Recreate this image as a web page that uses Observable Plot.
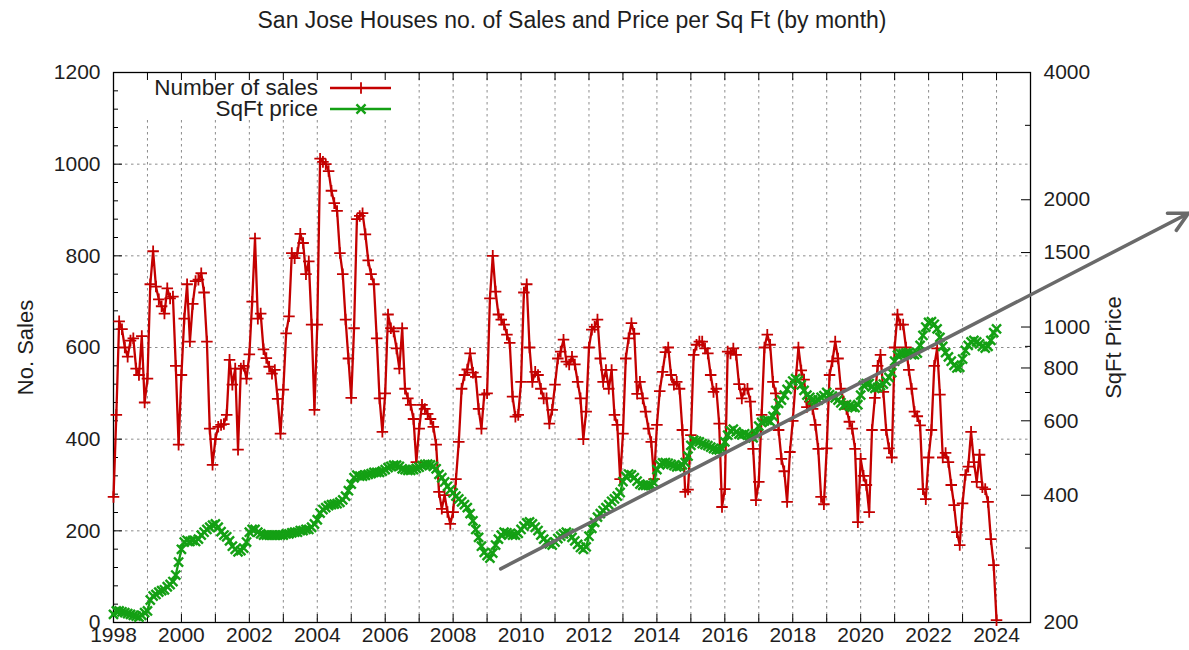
<!DOCTYPE html>
<html>
<head>
<meta charset="utf-8">
<script src="https://cdn.jsdelivr.net/npm/d3@7"></script>
<script src="https://cdn.jsdelivr.net/npm/@observablehq/plot@0.6"></script>
<style>
  html, body { margin: 0; padding: 0; background: #fff; }
  #chart svg { display: block; }
</style>
</head>
<body>
<div id="chart"></div>
<script>
// ---------------- DATA ----------------
const titleText = "San Jose Houses no. of Sales and Price per Sq Ft (by month)";
const firstYear = 1998;

// Number of sales per month, one row per year (Jan..Dec)
const salesByYear = [
  [274, 453, 657, 640, 600, 580, 615, 620, 554, 540, 625, 480], // 1998
  [532, 738, 810, 733, 705, 690, 674, 729, 707, 711, 560, 388], // 1999
  [540, 663, 738, 613, 695, 745, 748, 762, 720, 613, 423, 344], // 2000
  [400, 427, 431, 433, 453, 573, 519, 554, 377, 554, 560, 532], // 2001
  [585, 700, 838, 663, 674, 596, 577, 558, 543, 551, 488, 412], // 2002
  [508, 631, 668, 806, 795, 806, 848, 828, 760, 788, 650, 464], // 2003
  [650, 1012, 1005, 1000, 985, 942, 915, 898, 806, 760, 661, 576], // 2004
  [490, 642, 880, 887, 893, 847, 790, 760, 738, 620, 489, 416], // 2005
  [500, 672, 642, 635, 598, 554, 642, 510, 489, 475, 444, 350], // 2006
  [423, 475, 466, 455, 444, 427, 388, 285, 248, 278, 241, 215], // 2007
  [241, 313, 394, 510, 540, 552, 587, 545, 536, 466, 423, 497], // 2008
  [500, 707, 800, 722, 672, 661, 650, 628, 610, 493, 449, 453], // 2009
  [525, 720, 738, 600, 525, 547, 540, 510, 489, 489, 434, 464], // 2010
  [519, 576, 591, 617, 569, 563, 580, 563, 525, 489, 400, 460], // 2011
  [600, 639, 645, 661, 576, 525, 551, 510, 551, 453, 431, 313], // 2012
  [412, 576, 620, 653, 630, 499, 525, 489, 460, 423, 394, 313], // 2013
  [431, 505, 547, 590, 600, 540, 519, 525, 510, 420, 285, 290], // 2014
  [409, 584, 606, 613, 613, 598, 587, 540, 503, 510, 434, 252], // 2015
  [291, 591, 587, 598, 584, 520, 489, 508, 510, 482, 379, 267], // 2016
  [307, 453, 600, 628, 606, 525, 500, 420, 357, 330, 263, 372], // 2017
  [440, 525, 600, 550, 530, 470, 482, 466, 431, 379, 274, 258], // 2018
  [380, 540, 570, 613, 576, 510, 482, 466, 438, 423, 379, 219], // 2019
  [357, 320, 300, 241, 420, 490, 560, 584, 503, 420, 380, 360], // 2020
  [600, 672, 650, 650, 600, 551, 510, 460, 450, 430, 291, 269], // 2021
  [360, 420, 560, 598, 497, 360, 370, 350, 300, 256, 197, 169], // 2022
  [260, 322, 340, 416, 350, 307, 366, 295, 291, 263, 182, 125], // 2023
  [5]                                                            // 2024
];

// Price per square foot per month ($), one row per year (Jan..Dec)
const priceByYear = [
  [209, 213, 213, 212, 211, 210, 209, 208, 207, 206, 208, 211], // 1998
  [213, 226, 231, 233, 236, 238, 239, 243, 246, 250, 259, 278], // 1999
  [298, 310, 313, 311, 313, 311, 315, 322, 327, 332, 336, 340], // 2000
  [342, 336, 328, 322, 319, 312, 303, 298, 294, 296, 300, 310], // 2001
  [327, 332, 332, 327, 324, 322, 322, 322, 322, 322, 322, 322], // 2002
  [322, 324, 324, 326, 327, 327, 330, 330, 332, 332, 336, 342], // 2003
  [350, 363, 370, 374, 378, 380, 381, 382, 385, 390, 398, 410], // 2004
  [425, 440, 446, 444, 444, 446, 448, 450, 453, 453, 453, 456], // 2005
  [460, 465, 468, 471, 471, 468, 462, 460, 458, 458, 460, 463], // 2006
  [466, 470, 473, 474, 472, 468, 462, 448, 440, 430, 420, 412], // 2007
  [405, 398, 392, 386, 380, 374, 362, 348, 332, 318, 303, 293], // 2008
  [288, 284, 292, 305, 315, 322, 327, 326, 324, 322, 322, 325], // 2009
  [332, 338, 344, 346, 342, 336, 330, 322, 315, 310, 307, 305], // 2010
  [310, 316, 320, 324, 327, 325, 318, 312, 306, 301, 298, 302], // 2011
  [320, 334, 345, 355, 362, 368, 374, 380, 387, 392, 398, 406], // 2012
  [431, 443, 449, 447, 440, 432, 425, 422, 422, 422, 422, 428], // 2013
  [460, 472, 477, 478, 476, 473, 470, 467, 468, 472, 478, 495], // 2014
  [525, 540, 537, 535, 530, 527, 524, 520, 516, 513, 512, 515], // 2015
  [535, 555, 568, 573, 565, 558, 556, 559, 555, 551, 547, 560], // 2016
  [583, 595, 600, 602, 598, 615, 635, 660, 672, 690, 712, 730], // 2017
  [745, 755, 748, 730, 708, 690, 682, 672, 668, 672, 682, 688], // 2018
  [700, 692, 686, 680, 672, 662, 652, 655, 650, 646, 645, 655], // 2019
  [690, 728, 735, 735, 722, 716, 720, 727, 733, 745, 760, 780], // 2020
  [830, 858, 865, 865, 868, 870, 860, 860, 868, 905, 955, 1000], // 2021
  [1025, 1030, 1015, 990, 945, 900, 870, 850, 830, 812, 800, 803], // 2022
  [840, 880, 905, 922, 930, 922, 912, 900, 892, 900, 930, 970], // 2023
  [990]                                                            // 2024
];

// Axis ticks
const gridYears = d3.range(1999, 2025);
const tickYears = d3.range(1998, 2025);
const labelYears = d3.range(1998, 2025, 2);
const salesTicks = [0, 200, 400, 600, 800, 1000, 1200];
const salesGridTicks = [200, 400, 600, 800, 1000];
const salesMinorTicks = d3.range(40, 1200, 40).filter(d => d % 200 !== 0);
const priceTicks = [200, 400, 600, 800, 1000, 1500, 2000, 4000];
const priceMinorTicks = [300, 500, 700, 900, 3000];
const priceMin = 200, priceMax = 4000;

// Hand-drawn trend arrow annotation (start/end in data units: year, sales-axis units)
const trendArrow = [{x1: 2009.4, y1: 117, x2: 2029.65, y2: 893}];

// ---------------- BUILD ----------------
const RED = "#c40000";
const GREEN = "#14a014";
const TEXT = "#1e1e1e";
const FONT = "'Liberation Sans', Arial, Helvetica, sans-serif";

const salesData = salesByYear.flat().map((v, i) => ({t: firstYear + i / 12, v}));
const priceData = priceByYear.flat().map((v, i) => ({t: firstYear + i / 12, v}));

// map price (log scale) onto the 0..1200 sales axis range
const priceToY = p => 1200 * Math.log(p / priceMin) / Math.log(priceMax / priceMin);
const yToPrice = y => priceMin * Math.pow(priceMax / priceMin, y / 1200);

const W = 1189, H = 650;
const mL = 113, mR = 159, mT = 72, mB = 28;
const fw = W - mL - mR, fh = H - mT - mB;

const chart = Plot.plot({
  width: W, height: H,
  marginTop: mT, marginBottom: mB, marginLeft: mL, marginRight: mR,
  x: {domain: [1998, 2025], axis: null},
  y: {domain: [0, 1200], axis: null},
  style: {fontFamily: FONT, fontSize: "21px", color: TEXT, background: "#fff", overflow: "visible"},
  marks: [
    Plot.gridX(gridYears, {stroke: "#8c8c8c", strokeOpacity: 1, strokeWidth: 1, strokeDasharray: "2.5,3.5"}),
    Plot.gridY(salesGridTicks, {stroke: "#8c8c8c", strokeOpacity: 1, strokeWidth: 1, strokeDasharray: "2.5,3.5"}),
    // inward tick marks (gnuplot style)
    Plot.tickX(tickYears, {x: d => d, insetTop: fh - 8, stroke: "#000"}),
    Plot.tickX(tickYears, {x: d => d, insetBottom: fh - 8, stroke: "#000"}),
    Plot.tickY(salesTicks, {y: d => d, insetRight: fw - 9, stroke: "#000"}),
    Plot.tickY(salesMinorTicks, {y: d => d, insetRight: fw - 5, stroke: "#000"}),
    Plot.tickY(priceTicks.map(priceToY), {y: d => d, insetLeft: fw - 9, stroke: "#000"}),
    Plot.tickY(priceMinorTicks.map(priceToY), {y: d => d, insetLeft: fw - 5, stroke: "#000"}),
    Plot.frame({stroke: "#000", strokeWidth: 1.3}),
    // series
    Plot.line(salesData, {x: "t", y: "v", stroke: RED, strokeWidth: 2.3}),
    Plot.dot(salesData, {x: "t", y: "v", symbol: "plus", r: 3.8, stroke: RED, strokeWidth: 1.8, fill: "none"}),
    Plot.line(priceData, {x: "t", y: d => priceToY(d.v), stroke: GREEN, strokeWidth: 2.3}),
    Plot.dot(priceData, {x: "t", y: d => priceToY(d.v), symbol: "times", r: 4.2, stroke: GREEN, strokeWidth: 2.4, fill: "none"}),
    // annotation arrow
    Plot.arrow(trendArrow, {x1: "x1", y1: "y1", x2: "x2", y2: "y2", stroke: "#6a6a6a", strokeWidth: 3.5, headLength: 9, headAngle: 55, clip: false}),
    // axes labels
    Plot.axisX(labelYears, {anchor: "bottom", tickSize: 0, tickPadding: 5, tickFormat: d => String(d), label: null, fontSize: 21, fill: TEXT}),
    Plot.axisY(salesTicks, {anchor: "left", tickSize: 0, tickPadding: 13, tickFormat: d => String(d), label: null, fontSize: 21, fill: TEXT}),
    Plot.axisY(priceTicks.map(priceToY), {anchor: "right", tickSize: 0, tickPadding: 13, tickFormat: d => String(Math.round(yToPrice(d))), label: null, fontSize: 21, fill: TEXT}),
    // titles
    Plot.text([titleText], {text: d => d, frameAnchor: "top", lineAnchor: "middle", dy: -52, fontSize: 23, fill: TEXT}),
    Plot.text(["No. Sales"], {text: d => d, frameAnchor: "left", textAnchor: "middle", dx: -88, rotate: -90, fontSize: 22, fill: TEXT}),
    Plot.text(["SqFt Price"], {text: d => d, frameAnchor: "right", textAnchor: "middle", dx: 83, rotate: -90, fontSize: 22, fill: TEXT})
  ]
});

document.getElementById("chart").appendChild(chart);

// Legend box (opaque, hides grid lines behind it) placed right after the grid layers
const ns = "http://www.w3.org/2000/svg";
const yGrid = chart.querySelector('[aria-label="y-grid"]');
const bg = document.createElementNS(ns, "rect");
bg.setAttribute("x", mL + 1); bg.setAttribute("y", mT + 1);
bg.setAttribute("width", 283); bg.setAttribute("height", 47);
bg.setAttribute("fill", "#fff");
if (yGrid) yGrid.parentNode.insertBefore(bg, yGrid.nextSibling);

// Legend entries
const lg = d3.select(chart).append("g").attr("font-family", FONT).attr("font-size", 22.5).attr("fill", TEXT);
const legendItems = [
  {label: "Number of sales", color: RED, symbol: d3.symbolPlus, r: 3.8, sw: 1.8, y: 88},
  {label: "SqFt price", color: GREEN, symbol: d3.symbolTimes, r: 4.2, sw: 2.4, y: 109}
];
legendItems.forEach(it => {
  lg.append("text").attr("x", 318).attr("y", it.y).attr("dy", "0.3em").attr("text-anchor", "end").text(it.label);
  lg.append("line").attr("x1", 330).attr("x2", 391).attr("y1", it.y).attr("y2", it.y)
    .attr("stroke", it.color).attr("stroke-width", 2.3);
  lg.append("path").attr("d", d3.symbol(it.symbol, Math.PI * it.r * it.r)())
    .attr("transform", `translate(361,${it.y})`).attr("fill", "none")
    .attr("stroke", it.color).attr("stroke-width", it.sw);
});
</script>
</body>
</html>
